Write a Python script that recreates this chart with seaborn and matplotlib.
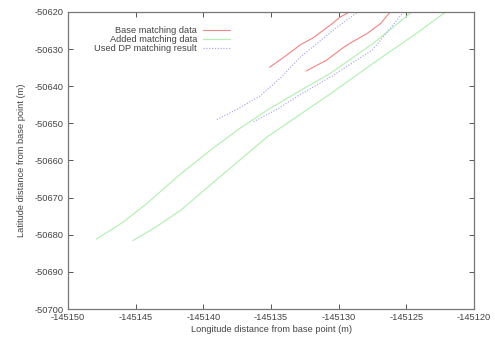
import matplotlib
matplotlib.use('Agg')
import matplotlib.pyplot as plt
import seaborn as sns

# Base matching data (two segments)
base1_x = [-145135.1, -145133.9, -145132.85, -145131.9, -145130.6, -145129.9, -145129.2]
base1_y = [-50634.9, -50631.8, -50628.9, -50627.0, -50623.5, -50621.4, -50620.0]
base2_x = [-145132.4, -145130.9, -145129.7, -145129.2, -145127.9, -145126.9, -145126.2]
base2_y = [-50635.9, -50633.0, -50629.7, -50628.5, -50625.8, -50623.1, -50620.0]

# Added matching data (two segments)
added1_x = [-145147.9, -145146.0, -145144.2, -145141.8, -145139.5, -145137.4, -145135.3, -145132.9, -145130.6, -145127.5, -145124.6]
added1_y = [-50681.2, -50676.8, -50671.7, -50664.0, -50657.3, -50651.6, -50646.5, -50641.3, -50636.5, -50628.6, -50620.0]
added2_x = [-145145.2, -145143.5, -145141.7, -145138.8, -145135.3, -145130.6, -145126.9, -145124.5, -145122.1]
added2_y = [-50681.6, -50677.9, -50673.5, -50664.5, -50653.7, -50642.0, -50632.4, -50626.4, -50620.0]

# Used DP matching result (two segments)
dp1_x = [-145139.0, -145137.4, -145135.8, -145134.3, -145132.85, -145130.4, -145128.6]
dp1_y = [-50649.0, -50646.0, -50642.6, -50637.8, -50632.2, -50624.9, -50620.0]
dp2_x = [-145136.3, -145134.6, -145133.0, -145130.5, -145127.5, -145125.2]
dp2_y = [-50649.6, -50646.3, -50642.6, -50637.3, -50630.2, -50620.0]

red = '#ee8a8a'
green = '#b4efb4'
blue = '#a8a8f2'
dot = (0, (1, 1.4))

sns.set_theme(style='ticks')
plt.rcParams['font.family'] = ['Liberation Sans', 'DejaVu Sans']
plt.rcParams['axes.unicode_minus'] = False

fig = plt.figure(figsize=(4.95, 3.4), dpi=100)
ax = fig.add_axes([0.137, 0.091, 0.821, 0.874])

lw = 0.85
sns.lineplot(x=base1_x, y=base1_y, sort=False, color=red, lw=lw, ax=ax)
sns.lineplot(x=base2_x, y=base2_y, sort=False, color=red, lw=lw, ax=ax)
sns.lineplot(x=added1_x, y=added1_y, sort=False, color=green, lw=lw, ax=ax)
sns.lineplot(x=added2_x, y=added2_y, sort=False, color=green, lw=lw, ax=ax)
sns.lineplot(x=dp1_x, y=dp1_y, sort=False, color=blue, lw=lw, linestyle=dot, ax=ax)
sns.lineplot(x=dp2_x, y=dp2_y, sort=False, color=blue, lw=lw, linestyle=dot, ax=ax)

ax.set_xlim(-145150, -145120)
ax.set_ylim(-50700, -50620)
ax.set_xticks(range(-145150, -145119, 5))
ax.set_yticks(range(-50700, -50619, 10))
ax.ticklabel_format(useOffset=False, style='plain')

txt = '#444444'
ax.tick_params(direction='in', length=3.5, width=0.7, colors='#555555',
               labelcolor=txt, labelsize=6.7, top=True, right=True, pad=3)
for s in ax.spines.values():
    s.set_linewidth(0.9)
    s.set_color('#777777')

ax.set_xlabel('Longitude distance from base point (m)', fontsize=6.7, color=txt, labelpad=2)
ax.set_ylabel('Latitude distance from base point (m)', fontsize=6.7, color=txt, labelpad=6)

# gnuplot-style key: right-aligned text, sample to the right
labels = ['Base matching data', 'Added matching data', 'Used DP matching result']
styles = [(red, '-'), (green, '-'), (blue, dot)]
for i, (lab, (c, ls)) in enumerate(zip(labels, styles)):
    yy = 0.939 - i * 0.031
    ax.text(0.318, yy, lab, transform=ax.transAxes, ha='right', va='center',
            fontsize=6.7, color=txt)
    ax.plot([0.333, 0.399], [yy, yy], transform=ax.transAxes, color=c, lw=lw, ls=ls)

fig.savefig('out.png', dpi=100)
